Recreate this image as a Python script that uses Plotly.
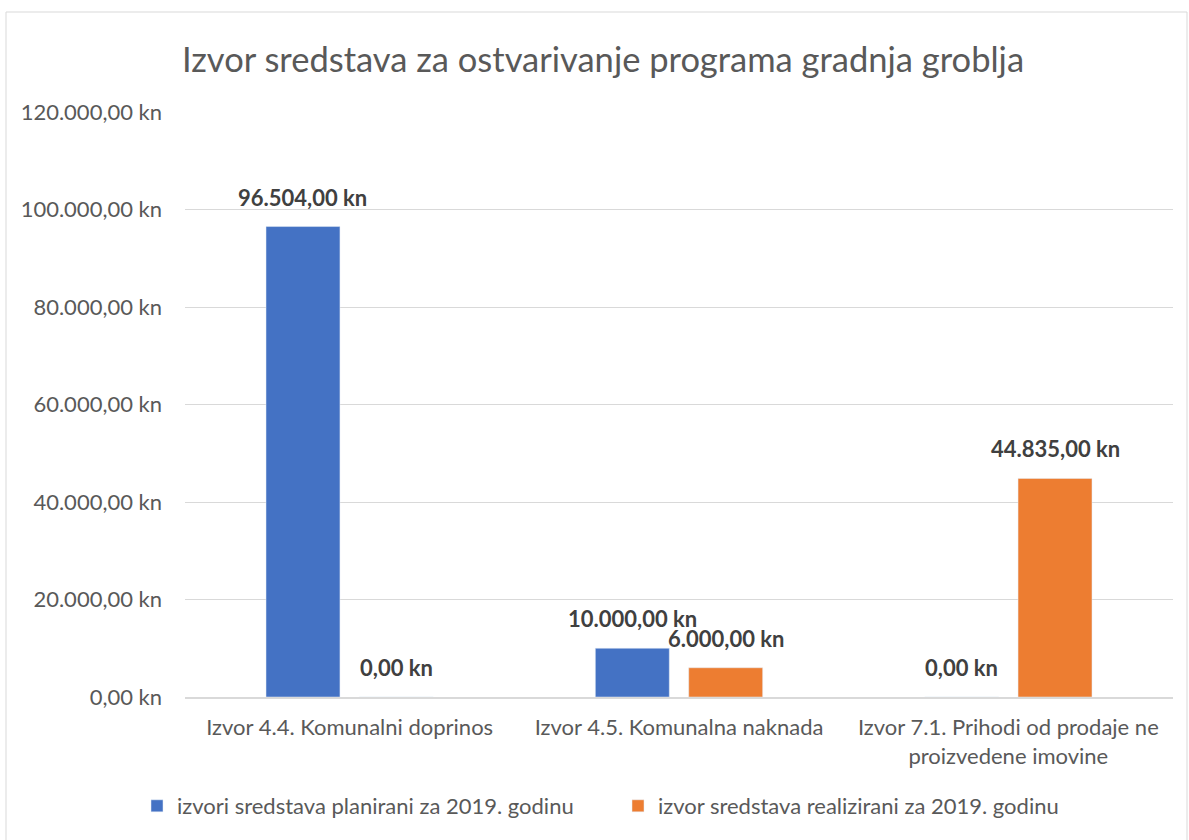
import plotly.graph_objects as go

categories = ["Izvor 4.4. Komunalni doprinos", "Izvor 4.5. Komunalna naknada",
              "Izvor 7.1. Prihodi od prodaje ne<br>proizvedene imovine"]
planned = [96504.00, 10000.00, 0.00]
realized = [0.00, 6000.00, 44835.00]
series_names = ["izvori sredstava planirani za 2019. godinu",
                "izvor sredstava realizirani za 2019. godinu"]
title_text = "Izvor sredstava za ostvarivanje programa gradnja groblja"
y_ticks = [0, 20000, 40000, 60000, 80000, 100000, 120000]


def fmt_kn(v):
    s = f"{v:,.2f}"
    s = s.replace(",", "X").replace(".", ",").replace("X", ".")
    return s + " kn"


y_tick_text = [fmt_kn(v) for v in y_ticks]

W, H = 1189, 840
L, R, T, B = 185, 16, 112, 143
FONT = "Lato"
BARGAP = 0.433
GROUPGAP = 0.208
cat_px = (W - L - R) / len(categories)
slot_px = (1 - BARGAP) * cat_px / 2

fig = go.Figure()
series = [(series_names[0], planned, "#4472C4", -1),
          (series_names[1], realized, "#ED7D31", 1)]
for name, vals, col, side in series:
    fig.add_trace(go.Bar(
        x=categories, y=vals, name=name, marker_color=col,
        hovertemplate="%{x}<br>%{y:,.2f}<extra></extra>",
    ))
    for c, v in zip(categories, vals):
        fig.add_annotation(
            x=c, y=v, xref="x", yref="y", text="<b>" + fmt_kn(v) + "</b>",
            showarrow=False, xanchor="center", yanchor="bottom",
            xshift=side * slot_px / 2, yshift=14,
            font=dict(size=22, color="#404040", family=FONT),
        )


def px_x(p):
    return (p - L) / (W - L - R)


def px_y(p):
    return (H - B - p) / (H - T - B)


fig.add_shape(type="rect", xref="paper", yref="paper",
              x0=px_x(6), x1=px_x(1187), y0=px_y(12), y1=px_y(845),
              line=dict(color="#D9D9D9", width=1), fillcolor="rgba(0,0,0,0)", layer="below")

fig.update_layout(
    width=W, height=H,
    margin=dict(l=L, r=R, t=T, b=B),
    paper_bgcolor="white", plot_bgcolor="white",
    barmode="group", bargap=BARGAP, bargroupgap=GROUPGAP,
    title=dict(text=title_text, x=603 / W, xanchor="center", y=1 - 60 / H, yanchor="middle",
               font=dict(size=34.5, color="#595959", family=FONT)),
    font=dict(family=FONT, color="#595959", size=22),
    showlegend=True,
    legend=dict(orientation="h", x=px_x(137), xanchor="left", y=px_y(806), yanchor="middle",
                font=dict(size=22, color="#595959", family=FONT), traceorder="normal",
                itemwidth=30, entrywidth=436, entrywidthmode="pixels"),
    xaxis=dict(showline=True, linecolor="#D9D9D9", linewidth=1.5, ticks="",
               ticklabelstandoff=10,
               tickfont=dict(size=22, color="#595959", family=FONT)),
    yaxis=dict(range=[0, 120000], tickvals=y_ticks, ticktext=y_tick_text,
               showgrid=True, gridcolor="#D9D9D9", gridwidth=1, zeroline=False,
               showline=False, ticks="", ticklen=0, ticklabelstandoff=22,
               tickfont=dict(size=22, color="#595959", family=FONT)),
)

fig.write_html("out.html", config={"displayModeBar": False},
               post_script="document.body.style.margin='0';")
